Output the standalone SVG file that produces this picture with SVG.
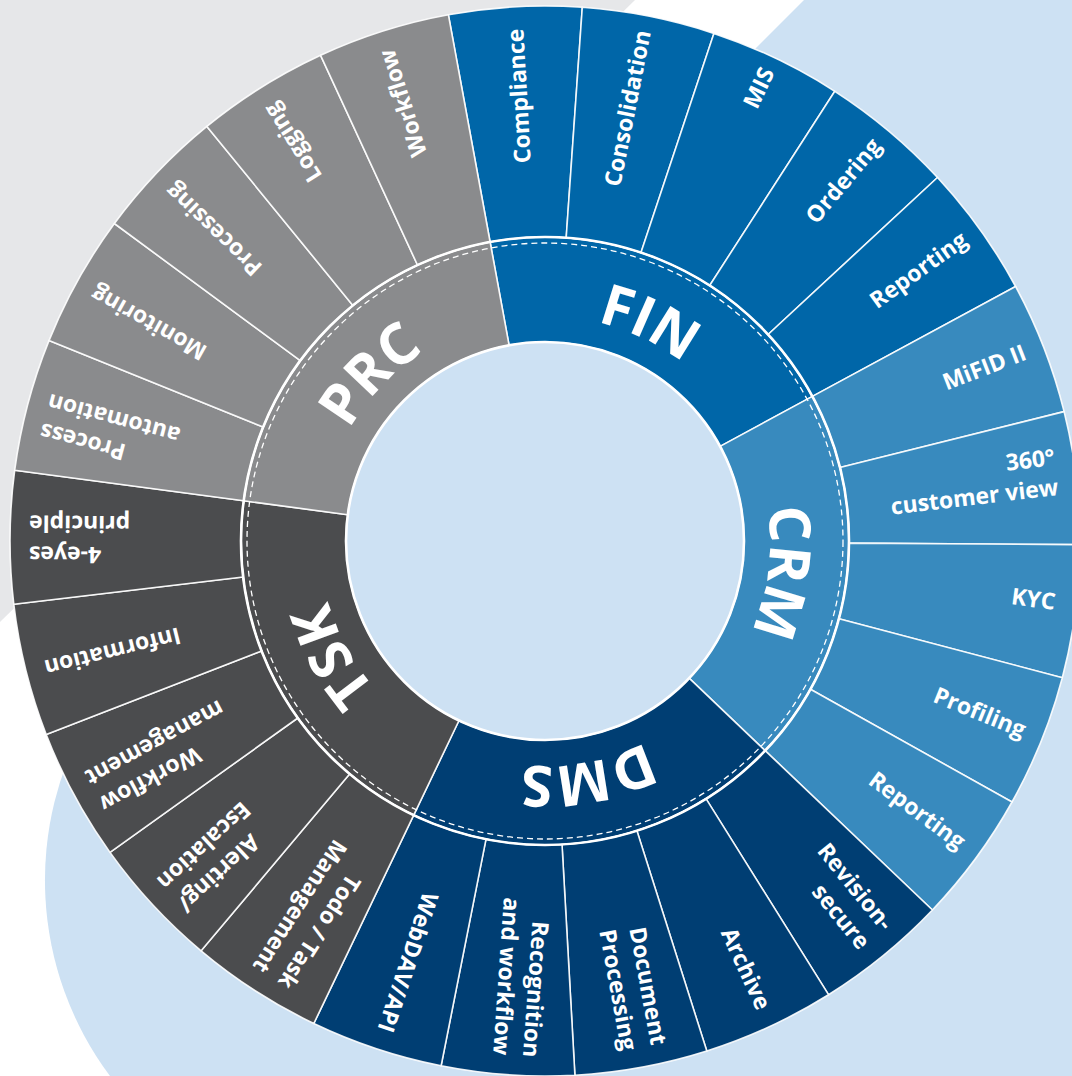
<svg xmlns="http://www.w3.org/2000/svg" width="1072" height="1076" viewBox="0 0 1072 1076">
  <defs>
    <style>
      .seg{stroke:#ffffff;stroke-opacity:0.9;stroke-width:1.6;stroke-linejoin:round}
      .fin{fill:#0066a8}
      .crm{fill:#388abe}
      .dms{fill:#003e73}
      .tsk{fill:#4b4c4e}
      .prc{fill:#8a8b8d}
      .lbl{font-family:"Open Sans","Noto Sans","Liberation Sans",sans-serif;font-weight:700;font-size:23px;fill:#ffffff;text-anchor:end}
      .cat{font-family:"Open Sans","Noto Sans","Liberation Sans",sans-serif;font-weight:700;font-size:57px;fill:#ffffff;text-anchor:middle}
    </style>
    <!-- baseline arcs (r=225) for the category titles, clockwise -->
    <path id="arcFIN" d="M417.88 355.35A225 225 0 0 1 769.34 523.74"/>
    <path id="arcCRM" d="M682.28 362.73A225 225 0 0 1 630.74 749.02"/>
    <path id="arcDMS" d="M756.96 616.48A225 225 0 0 1 373.65 686.83"/>
    <path id="arcTSK" d="M538.72 765.91A225 225 0 0 1 353.36 423.1"/>
    <path id="arcPRC" d="M329.15 604.53A225 225 0 0 1 597.91 322.31"/>
  </defs>

  <!-- background -->
  <rect width="1072" height="1076" fill="#ffffff"/>
  <path d="M0 0H635L0 622Z" fill="#e6e7e9"/>
  <path d="M804 0H1072V1076H110A327 327 0 0 1 91 713Z" fill="#cde1f3"/>

  <!-- category ring -->
  <g id="cat-fin">
    <path class="seg fin" d="M509.1 345.3L490.1 242A304 304 0 0 1 812.4 396.4L720.1 446.4A199 199 0 0 0 509.1 345.3Z"/>
    <text class="cat"><textPath href="#arcFIN" startOffset="50%">FIN</textPath></text>
  </g>
  <g id="cat-crm">
    <path class="seg crm" d="M720.1 446.4L812.4 396.4A304 304 0 0 1 765.1 750.6L689.1 678.2A199 199 0 0 0 720.1 446.4Z"/>
    <text class="cat"><textPath href="#arcCRM" startOffset="50%">CRM</textPath></text>
  </g>
  <g id="cat-dms">
    <path class="seg dms" d="M689.1 678.2L765.1 750.6A304 304 0 0 1 413.7 815.2L459 720.5A199 199 0 0 0 689.1 678.2Z"/>
    <text class="cat"><textPath href="#arcDMS" startOffset="50%">DMS</textPath></text>
  </g>
  <g id="cat-tsk">
    <path class="seg tsk" d="M459 720.5L413.7 815.2A304 304 0 0 1 243.7 500.8L347.8 514.7A199 199 0 0 0 459 720.5Z"/>
    <text class="cat"><textPath href="#arcTSK" startOffset="50%">TSK</textPath></text>
  </g>
  <g id="cat-prc">
    <path class="seg prc" d="M347.8 514.7L243.7 500.8A304 304 0 0 1 490.1 242L509.1 345.3A199 199 0 0 0 347.8 514.7Z"/>
    <text class="cat"><textPath href="#arcPRC" startOffset="50%">PRC</textPath></text>
  </g>

  <!-- FIN segments -->
  <g id="fin-compliance">
    <path class="seg fin" d="M490.1 242L448.4 14.8A535 535 0 0 1 582.3 7.3L566.2 237.7A304 304 0 0 0 490.1 242Z"/>
    <text class="lbl" transform="translate(545 541) rotate(-93.2)" x="513" y="7">Compliance</text>
  </g>
  <g id="fin-consolidation">
    <path class="seg fin" d="M566.2 237.7L582.3 7.3A535 535 0 0 1 713.9 33.4L641 252.5A304 304 0 0 0 566.2 237.7Z"/>
    <text class="lbl" transform="translate(545 541) rotate(-78.8)" x="520" y="5">Consolidation</text>
  </g>
  <g id="fin-mis">
    <path class="seg fin" d="M641 252.5L713.9 33.4A535 535 0 0 1 834.8 91.3L709.7 285.5A304 304 0 0 0 641 252.5Z"/>
    <text class="lbl" transform="translate(545 541) rotate(-64.4)" x="522" y="5">MIS</text>
  </g>
  <g id="fin-ordering">
    <path class="seg fin" d="M709.7 285.5L834.8 91.3A535 535 0 0 1 937.5 177.5L768.1 334.5A304 304 0 0 0 709.7 285.5Z"/>
    <text class="lbl" transform="translate(545 541) rotate(-50)" x="519" y="5">Ordering</text>
  </g>
  <g id="fin-reporting">
    <path class="seg fin" d="M768.1 334.5L937.5 177.5A535 535 0 0 1 1015.6 286.5L812.4 396.4A304 304 0 0 0 768.1 334.5Z"/>
    <text class="lbl" transform="translate(545 541) rotate(-35.6)" x="518" y="5">Reporting</text>
  </g>

  <!-- CRM segments -->
  <g id="crm-mifid">
    <path class="seg crm" d="M812.4 396.4L1015.6 286.5A535 535 0 0 1 1064.1 411.6L840 467.5A304 304 0 0 0 812.4 396.4Z"/>
    <text class="lbl" transform="translate(545 541) rotate(-21.2)" x="516" y="5">MiFID II</text>
  </g>
  <g id="crm-360">
    <path class="seg crm" d="M840 467.5L1064.1 411.6A535 535 0 0 1 1080 544.7L849 543.1A304 304 0 0 0 840 467.5Z"/>
    <text class="lbl" transform="translate(545 541) rotate(-6.8)"><tspan x="516" y="-15">360°</tspan><tspan x="516" y="15">customer view</tspan></text>
  </g>
  <g id="crm-kyc">
    <path class="seg crm" d="M849 543.1L1080 544.7A535 535 0 0 1 1062.3 677.7L838.9 618.7A304 304 0 0 0 849 543.1Z"/>
    <text class="lbl" transform="translate(545 541) rotate(7.6)" x="514" y="1">KYC</text>
  </g>
  <g id="crm-profiling">
    <path class="seg crm" d="M838.9 618.7L1062.3 677.7A535 535 0 0 1 1012 802L810.4 689.3A304 304 0 0 0 838.9 618.7Z"/>
    <text class="lbl" transform="translate(545 541) rotate(22)" x="516" y="4">Profiling</text>
  </g>
  <g id="crm-reporting">
    <path class="seg crm" d="M810.4 689.3L1012 802A535 535 0 0 1 932.4 910L765.1 750.6A304 304 0 0 0 810.4 689.3Z"/>
    <text class="lbl" transform="translate(545 541) rotate(36.4)" x="516" y="4">Reporting</text>
  </g>

  <!-- DMS segments -->
  <g id="dms-revision">
    <path class="seg dms" d="M765.1 750.6L932.4 910A535 535 0 0 1 828.5 994.7L706.1 798.8A304 304 0 0 0 765.1 750.6Z"/>
    <text class="lbl" transform="translate(545 541) rotate(50.8)"><tspan x="516" y="-14">Revision-</tspan><tspan x="516" y="16">secure</tspan></text>
  </g>
  <g id="dms-archive">
    <path class="seg dms" d="M706.1 798.8L828.5 994.7A535 535 0 0 1 706.8 1051L636.9 830.8A304 304 0 0 0 706.1 798.8Z"/>
    <text class="lbl" transform="translate(545 541) rotate(65.2)" x="516" y="5">Archive</text>
  </g>
  <g id="dms-document">
    <path class="seg dms" d="M636.9 830.8L706.8 1051A535 535 0 0 1 574.9 1075.2L562 844.5A304 304 0 0 0 636.9 830.8Z"/>
    <text class="lbl" transform="translate(545 541) rotate(79.6)"><tspan x="516" y="-13">Document</tspan><tspan x="516" y="17">Processing</tspan></text>
  </g>
  <g id="dms-recognition">
    <path class="seg dms" d="M562 844.5L574.9 1075.2A535 535 0 0 1 441.1 1065.8L486 839.2A304 304 0 0 0 562 844.5Z"/>
    <text class="lbl" transform="translate(545 541) rotate(94)"><tspan x="516" y="-14">Recognition</tspan><tspan x="516" y="16">and workflow</tspan></text>
  </g>
  <g id="dms-webdav">
    <path class="seg dms" d="M486 839.2L441.1 1065.8A535 535 0 0 1 313.8 1023.5L413.7 815.2A304 304 0 0 0 486 839.2Z"/>
    <text class="lbl" transform="translate(545 541) rotate(108.4)" x="516" y="5">WebDAV/API</text>
  </g>

  <!-- TSK segments -->
  <g id="tsk-todo">
    <path class="seg tsk" d="M413.7 815.2L313.8 1023.5A535 535 0 0 1 201.1 950.8L349.6 773.9A304 304 0 0 0 413.7 815.2Z"/>
    <text class="lbl" transform="translate(545 541) rotate(122.8)"><tspan x="516" y="-14">Todo / Task</tspan><tspan x="516" y="16">Management</tspan></text>
  </g>
  <g id="tsk-alerting">
    <path class="seg tsk" d="M349.6 773.9L201.1 950.8A535 535 0 0 1 110 852.4L297.8 718A304 304 0 0 0 349.6 773.9Z"/>
    <text class="lbl" transform="translate(545 541) rotate(137.2)"><tspan x="516" y="-14">Alerting/</tspan><tspan x="516" y="16">Escalation</tspan></text>
  </g>
  <g id="tsk-workflow">
    <path class="seg tsk" d="M297.8 718L110 852.4A535 535 0 0 1 46.2 734.5L261.6 650.9A304 304 0 0 0 297.8 718Z"/>
    <text class="lbl" transform="translate(545 541) rotate(151.6)"><tspan x="516" y="-14">Workflow</tspan><tspan x="516" y="16">management</tspan></text>
  </g>
  <g id="tsk-information">
    <path class="seg tsk" d="M261.6 650.9L46.2 734.5A535 535 0 0 1 13.8 604.3L243.1 577A304 304 0 0 0 261.6 650.9Z"/>
    <text class="lbl" transform="translate(545 541) rotate(166)" x="516" y="5">Information</text>
  </g>
  <g id="tsk-4eyes">
    <path class="seg tsk" d="M243.1 577L13.8 604.3A535 535 0 0 1 14.7 470.2L243.7 500.8A304 304 0 0 0 243.1 577Z"/>
    <text class="lbl" transform="translate(545 541) rotate(180.4)"><tspan x="516" y="-9">4-eyes</tspan><tspan x="516" y="22">principle</tspan></text>
  </g>

  <!-- PRC segments -->
  <g id="prc-automation">
    <path class="seg prc" d="M243.7 500.8L14.7 470.2A535 535 0 0 1 49 340.6L263.1 427.1A304 304 0 0 0 243.7 500.8Z"/>
    <text class="lbl" transform="translate(545 541) rotate(194.8)"><tspan x="516" y="-14">Process</tspan><tspan x="516" y="16">automation</tspan></text>
  </g>
  <g id="prc-monitoring">
    <path class="seg prc" d="M263.1 427.1L49 340.6A535 535 0 0 1 114.4 223.5L300.3 360.6A304 304 0 0 0 263.1 427.1Z"/>
    <text class="lbl" transform="translate(545 541) rotate(209.2)" x="516" y="5">Monitoring</text>
  </g>
  <g id="prc-processing">
    <path class="seg prc" d="M300.3 360.6L114.4 223.5A535 535 0 0 1 206.9 126.4L352.9 305.4A304 304 0 0 0 300.3 360.6Z"/>
    <text class="lbl" transform="translate(545 541) rotate(223.6)" x="516" y="5">Processing</text>
  </g>
  <g id="prc-logging">
    <path class="seg prc" d="M352.9 305.4L206.9 126.4A535 535 0 0 1 320.6 55.3L417.5 265A304 304 0 0 0 352.9 305.4Z"/>
    <text class="lbl" transform="translate(545 541) rotate(238)" x="516" y="5">Logging</text>
  </g>
  <g id="prc-workflow">
    <path class="seg prc" d="M417.5 265L320.6 55.3A535 535 0 0 1 448.4 14.8L490.1 242A304 304 0 0 0 417.5 265Z"/>
    <text class="lbl" transform="translate(545 541) rotate(252.4)" x="516" y="5">Workflow</text>
  </g>

  <!-- ring lines and hub -->
  <g id="rings" fill="none" stroke="#ffffff">
    <circle cx="545" cy="541" r="304" stroke-width="2.6"/>
    <circle cx="545" cy="541" r="298" stroke-width="1.3" stroke-dasharray="6 4"/>
  </g>
  <circle id="hub" cx="545" cy="541" r="199" fill="#cde1f3" stroke="#ffffff" stroke-width="2.6"/>
</svg>
